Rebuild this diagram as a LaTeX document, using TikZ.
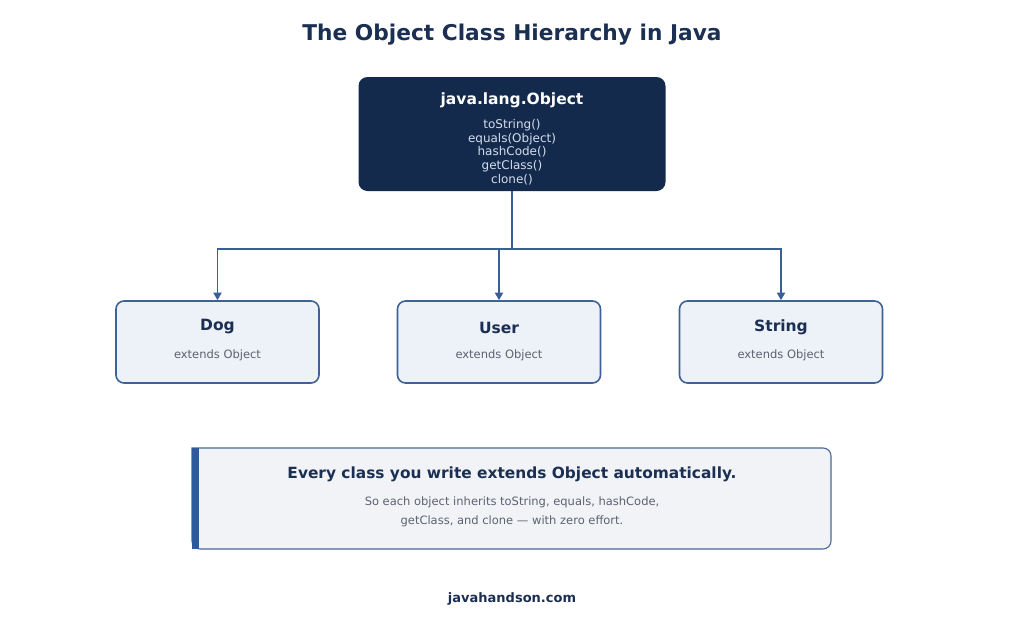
\documentclass[tikz,border=0pt]{standalone}
\usepackage{fontspec}
\setmainfont{DejaVu Sans}
\usetikzlibrary{arrows.meta}
\definecolor{navy}{HTML}{142A4C}
\definecolor{titlec}{HTML}{1B2F52}
\definecolor{linec}{HTML}{3A5F95}
\definecolor{childfill}{HTML}{EDF1F8}
\definecolor{childdraw}{HTML}{3D6396}
\definecolor{graytext}{HTML}{5B6270}
\definecolor{methodc}{HTML}{D3DDEE}
\definecolor{notefill}{HTML}{F1F3F7}
\definecolor{notedraw}{HTML}{4A6A9A}
\definecolor{barc}{HTML}{2D5A9B}
\tikzset{
  objbox/.style={draw=none, fill=navy, rounded corners=9pt, minimum width=307pt, minimum height=114pt, inner sep=0pt},
  childbox/.style={draw=childdraw, line width=1.6pt, fill=childfill, rounded corners=8pt, minimum width=203pt, minimum height=82pt, inner sep=0pt},
  childtitle/.style={font=\bfseries\fontsize{15.5}{18}\selectfont, text=titlec},
  childsub/.style={font=\fontsize{11.5}{13}\selectfont, text=graytext},
  conn/.style={draw=linec, line width=1.8pt},
  arr/.style={conn, -{Triangle[width=8pt,length=7.5pt]}},
}
\begin{document}
\begin{tikzpicture}[x=1pt,y=-1pt]
\useasboundingbox (0,0) rectangle (1024,640);
\fill[white] (0,0) rectangle (1024,640);
% title
\node[font=\bfseries\fontsize{21.7}{25}\selectfont, text=titlec] (title) at (512,35) {The Object Class Hierarchy in Java};
% object box
\node[objbox] (obj) at (512,134) {};
\node[font=\bfseries\fontsize{15.5}{18}\selectfont, text=white] (objt) at (512,100) {java.lang.Object};
\node[font=\fontsize{12}{13.7}\selectfont, text=methodc, align=center, inner sep=0pt] (objm) at (512,152) {toString()\\equals(Object)\\hashCode()\\getClass()\\clone()};
% children
\node[childbox] (dog) at (217.5,342) {};
\node[childbox] (user) at (499,342) {};
\node[childbox] (str) at (781,342) {};
\node[childtitle] (dogt) at (217.5,327) {Dog};
\node[childtitle] (usert) at (499,328) {User};
\node[childtitle] (strt) at (781,327) {String};
\node[childsub] (dogs) at (217.5,355.5) {extends Object};
\node[childsub] (users) at (499,355.5) {extends Object};
\node[childsub] (strs) at (781,355.5) {extends Object};
% connectors
\coordinate (j) at (512,249);
\draw[conn] (obj.south) -- (j);
\draw[arr] (j) -| (dog.north);
\draw[arr] (j) -| (user.north);
\draw[arr] (j) -| (str.north);
% note box
\draw[draw=notedraw, line width=1.1pt, fill=notefill, rounded corners=8pt] (192,448) -- (831,448) -- (831,549) -- (192,549) [sharp corners] -- cycle;
\fill[barc] (192,448) rectangle (198.5,549);
\node[font=\bfseries\fontsize{15.4}{18}\selectfont, text=titlec] (notet) at (512,474) {Every class you write extends Object automatically.};
\node[font=\fontsize{11.5}{19}\selectfont, text=graytext, align=center] (notes) at (512,511.5) {So each object inherits toString, equals, hashCode,\\getClass, and clone — with zero effort.};
% footer
\node[font=\bfseries\fontsize{13}{16}\selectfont, text=titlec] (foot) at (512,599) {javahandson.com};
\end{tikzpicture}
\end{document}
